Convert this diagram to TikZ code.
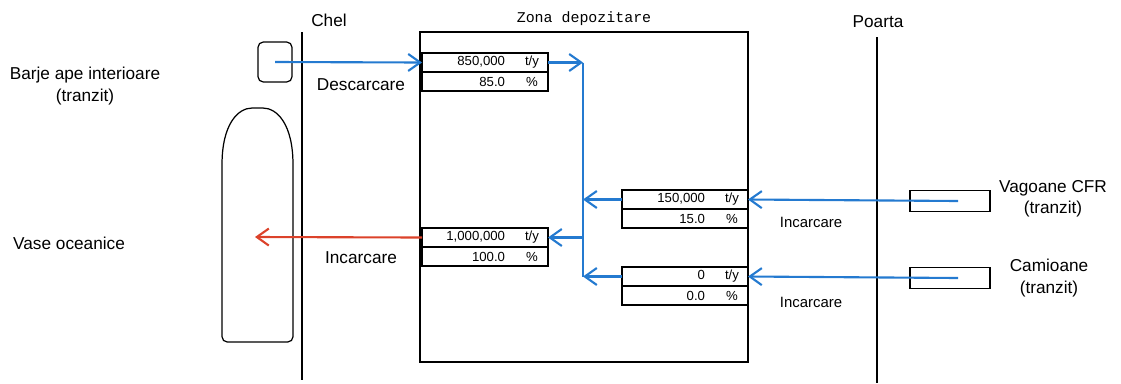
\documentclass[tikz,border=0pt]{standalone}
\usepackage{fontspec}
\setmainfont{Liberation Sans}
\newfontfamily\zonafont{Liberation Mono}
\usepackage{xcolor}
\usetikzlibrary{arrows.meta,positioning}

\definecolor{flowblue}{RGB}{36,122,208}
\definecolor{flowred}{RGB}{220,66,42}
\newcommand{\fluxval}[2]{#1\hspace{0.29cm}\makebox[0.5cm][c]{#2}}

\begin{document}
\begin{tikzpicture}[x=0.02cm, y=-0.02cm, font=\fontsize{9.8}{12.2}\selectfont,
    frame/.style={draw, line width=0.7pt},
    row/.style={frame, rectangle, outer sep=0pt, text width=2.38cm, align=right, minimum height=0.38cm, inner ysep=0pt, inner xsep=0.07cm, font=\fontsize{7.5}{8}\selectfont},
    vehicle/.style={frame, rectangle, minimum width=1.6cm, minimum height=0.42cm},
    flow/.style={draw=flowblue, line width=1.2pt, -{Straight Barb[length=2.4mm, width=3.4mm]}},
    flowred/.style={flow, draw=flowred}]
    \useasboundingbox (0,0) rectangle (1121,383);

    % Zones: quay, depot, gate
    \node (chel) at (329,20) {Chel};
    \node[font=\zonafont\fontsize{8.5}{10}\selectfont] (zona) at (584,19) {Zona depozitare};
    \node (poarta) at (878,22) {Poarta};
    \draw[line width=0.6pt] (302,32) -- (302,380);
    \draw[frame] (420,32) rectangle (748,362);
    \draw[line width=0.6pt] (877,37) -- (877,383);

    % Water side: barge and ocean vessel
    \node[frame, rounded corners=3pt, minimum width=0.68cm, minimum height=0.8cm] (barja) at (275,62) {};
    \draw[frame, rounded corners=3pt] (222,170) -- (222,342) -- (293,342) -- (293,170)
        .. controls (293,124) and (277,108) .. (257.5,108) .. controls (238,108) and (222,124) .. (222,170) -- cycle;
    \coordinate (vas) at (255,237);
    \node[align=center] (barjelbl) at (85,86) {Barje ape interioare\\(tranzit)};
    \node[anchor=west] (vaselbl) at (7,243) {Vase oceanice};
    \node (descl) at (361,85) {Descarcare};
    \node (incl) at (361,258) {Incarcare};

    % Flow boxes in the depot
    \node[row] (qdesc) at (485,62.5) {\fluxval{850,000}{t/y}};
    \node[row, below=0pt of qdesc] (pdesc) {\fluxval{85.0}{\%}};
    \node[row] (qinc) at (485,237.5) {\fluxval{1,000,000}{t/y}};
    \node[row, below=0pt of qinc] (pinc) {\fluxval{100.0}{\%}};
    \node[row] (qcfr) at (685,199.5) {\fluxval{150,000}{t/y}};
    \node[row, below=0pt of qcfr] (pcfr) {\fluxval{15.0}{\%}};
    \node[row] (qcam) at (685,276.5) {\fluxval{0}{t/y}};
    \node[row, below=0pt of qcam] (pcam) {\fluxval{0.0}{\%}};

    % Land side: wagons and trucks
    \node[vehicle] (vag) at (950,201) {};
    \node[vehicle] (cam) at (950,278) {};
    \node[align=center] (vaglbl) at (1053,198.5) {Vagoane CFR\\(tranzit)};
    \node[align=center] (camlbl) at (1049,278) {Camioane\\(tranzit)};
    \node[font=\fontsize{8.5}{10}\selectfont] (inccfr) at (811,222) {Incarcare};
    \node[font=\fontsize{8.5}{10}\selectfont] (inccam) at (811,302) {Incarcare};

    % Arrows
    \coordinate (jtop) at (583,62.5);
    \coordinate (jbot) at (583,276.5);
    \draw[flow] (barja.center) -- (qdesc.west);
    \draw[flow] (qdesc.east) -- (jtop);
    \draw[draw=flowblue, line width=1.2pt] (jtop) -- (jbot);
    \draw[flow] (qcfr.west) -- (qcfr.west -| jtop);
    \draw[flow] (qcam.west) -- (qcam.west -| jtop);
    \draw[flow] (qinc.east -| jtop) -- (qinc.east);
    \draw[flow] ([xshift=0.16cm]vag.center) -- (qcfr.east);
    \draw[flow] ([xshift=0.16cm]cam.center) -- (qcam.east);
    \draw[flowred] (qinc.west) -- (vas);
\end{tikzpicture}
\end{document}
